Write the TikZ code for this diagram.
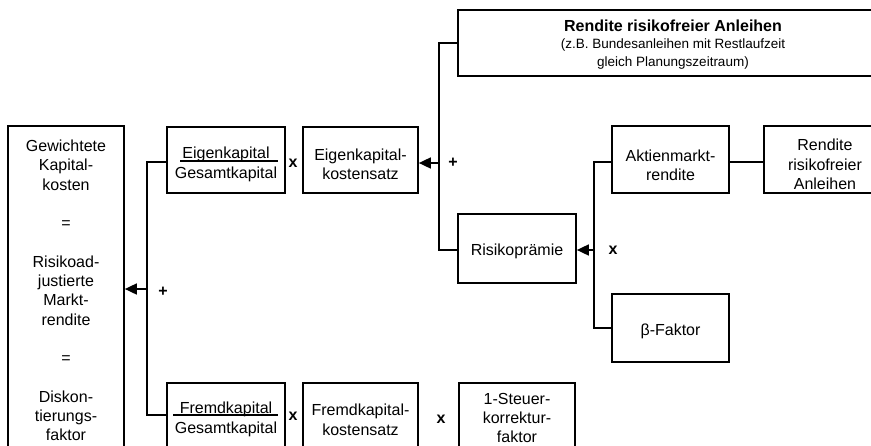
\documentclass[tikz,border=0pt]{standalone}
\usepackage{fontspec}
\setmainfont{Liberation Sans}
\usetikzlibrary{arrows.meta,calc}
\newcommand{\mainfs}{\fontsize{16}{19.5}\selectfont}
\newcommand{\tallfs}{\fontsize{16}{19.3}\selectfont}
\newcommand{\tightfs}{\fontsize{16}{19}\selectfont}
\newcommand{\subfs}{\fontsize{13.5}{18}\selectfont}
\tikzset{
  box/.style={draw, line width=1.7pt, inner sep=0pt},
  txt/.style={inner sep=0pt, align=center, font=\mainfs},
  link/.style={line width=1.7pt},
  rulestyle/.style={line width=1.7pt},
  arr/.style={line width=1.7pt, -{Triangle[length=12pt,width=11pt]}},
  op/.style={font=\mainfs\bfseries, inner sep=0pt},
}
\begin{document}
\begin{tikzpicture}[x=1pt,y=-1pt]
\useasboundingbox (0,0) rectangle (871,445);
\clip (0,0) rectangle (871,445);

% boxes
\node[box, minimum width=116pt, minimum height=330pt] (wacc) at (66,291) {};
\node[box, minimum width=118pt, minimum height=66pt] (ek) at (226,160) {};
\node[box, minimum width=115pt, minimum height=66pt] (eks) at (360.5,160) {};
\node[box, minimum width=430pt, minimum height=66pt] (rf) at (673,43) {};
\node[box, minimum width=118pt, minimum height=69pt] (rp) at (517,248.5) {};
\node[box, minimum width=117pt, minimum height=67pt] (am) at (670.5,159.5) {};
\node[box, minimum width=122pt, minimum height=67pt] (rf2) at (825,159.5) {};
\node[box, minimum width=117pt, minimum height=68pt] (bf) at (670.5,328) {};
\node[box, minimum width=118pt, minimum height=68pt] (fk) at (226,417) {};
\node[box, minimum width=115pt, minimum height=68pt] (fks) at (360.5,417) {};
\node[box, minimum width=116pt, minimum height=68pt] (st) at (517,417) {};

% box texts
\node[txt, font=\tallfs] (waccT) at (66,290.5)
  {Gewichtete\\Kapital-\\kosten\\[19.3pt]=\\[19.3pt]Risikoad-\\justierte\\Markt-\\rendite\\[19.3pt]=\\[19.3pt]Diskon-\\tierungs-\\faktor};
\node[txt] (ekT) at (226,164.5) {Eigenkapital\\Gesamtkapital};
\node[txt] (eksT) at (360.5,164.5) {Eigenkapital-\\kostensatz};
\node[txt, anchor=base, font=\mainfs\bfseries] (rfT1) at (673,31.7) {Rendite risikofreier Anleihen};
\node[txt, anchor=base, font=\subfs] (rfT2) at (673,48.5) {(z.B. Bundesanleihen mit Restlaufzeit};
\node[txt, anchor=base, font=\subfs] (rfT3) at (673,66.7) {gleich Planungszeitraum)};
\node[txt] (rpT) at (517,251.5) {Risikoprämie};
\node[txt] (amT) at (670.5,165.5) {Aktienmarkt-\\rendite};
\node[txt] (rf2T) at (825,164.5) {Rendite\\risikofreier\\Anleihen};
\node[txt] (bfT) at (670.5,331.5) {β-Faktor};
\node[txt] (fkT) at (226,419.5) {Fremdkapital\\Gesamtkapital};
\node[txt] (fksT) at (360.5,420) {Fremdkapital-\\kostensatz};
\node[txt, font=\tightfs] (stT) at (517,417.5) {1-Steuer-\\korrektur-\\faktor};

% operators
\node[op] (p1) at (163,292) {+};
\node[op] (x1) at (293,163) {x};
\node[op] (p2) at (453,163) {+};
\node[op] (x2) at (613,250) {x};
\node[op] (x3) at (293,416) {x};
\node[op] (x4) at (441,419) {x};

% fraction rules
\draw[rulestyle] ($(ek.center)+(-46,1)$) -- ($(ek.center)+(52,1)$);
\draw[rulestyle] ($(fk.center)+(-53,-2)$) -- ($(fk.center)+(52,-2)$);

% junction points
\coordinate (a1) at (147,162);
\coordinate (a2) at (147,415);
\coordinate (a3) at (147,289);
\coordinate (b1) at (439,43);
\coordinate (b2) at (439,250);
\coordinate (b3) at (439,163);
\coordinate (c1) at (594,162);
\coordinate (c2) at (594,328);
\coordinate (c3) at (594,250);

% connectors
\draw[link] (ek.west |- a1) -- (a1) -- (a2) -- (fk.west |- a2);
\draw[arr] (a3) -- (wacc.east |- a3);
\draw[link] (rf.west |- b1) -- (b1) -- (b2) -- (rp.west |- b2);
\draw[arr] (b3) -- (eks.east |- b3);
\draw[link] (am.west |- c1) -- (c1) -- (c2) -- (bf.west |- c2);
\draw[arr] (c3) -- (rp.east |- c3);
\draw[link] (am.east |- c1) -- (rf2.west |- c1);
\end{tikzpicture}
\end{document}
